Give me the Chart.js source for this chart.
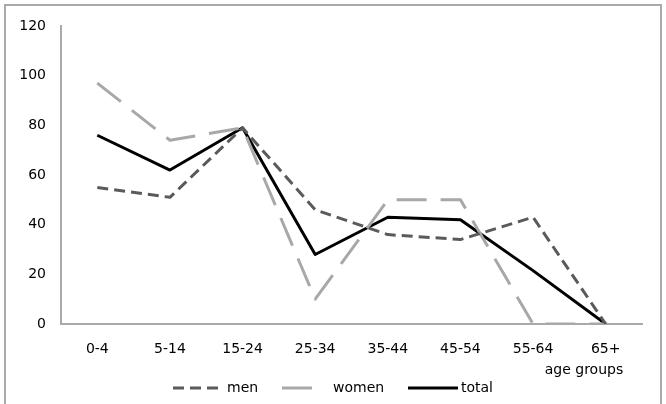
<!DOCTYPE html>
<html>
<head>
<meta charset="utf-8">
<title>Age groups</title>
<script src="https://cdn.jsdelivr.net/npm/chart.js@4/dist/chart.umd.min.js"></script>
<style>
    html, body { margin: 0; padding: 0; background: #fff; overflow: hidden; }
    #wrap { position: relative; width: 666px; height: 404px; }
    #frame {
        position: absolute; left: 4px; top: 4px; width: 654px; height: 420px;
        border: 2px solid #a9a9a9; pointer-events: none;
    }
    canvas { position: absolute; left: 0; top: 0; }
</style>
</head>
<body>
<div id="wrap">
    <canvas id="ageChart" width="666" height="404"></canvas>
    <div id="frame"></div>
</div>
<script>
// Data
const ageGroups = ['0-4', '5-14', '15-24', '25-34', '35-44', '45-54', '55-64', '65+'];
const menValues = [55, 51, 79, 46, 36, 34, 43, 0];
const womenValues = [97, 74, 79, 10, 50, 50, 0, 0];
const totalValues = [76, 62, 79, 28, 43, 42, 21.5, 0];
const yTicks = [0, 20, 40, 60, 80, 100, 120];

const FONT = '"DejaVu Sans", Verdana, sans-serif';
const TEXT_COLOR = '#000000';

// Legend drawn at the bottom like the Excel original
const bottomLegend = {
    id: 'bottomLegend',
    afterDraw(chart) {
        const ctx = chart.ctx;
        const spots = [
            { x1: 173, x2: 218, tx: 227 },
            { x1: 282, x2: 313, tx: 333 },
            { x1: 408, x2: 458, tx: 461 }
        ];
        const y = 388;
        ctx.save();
        chart.data.datasets.forEach((ds, i) => {
            const s = spots[i];
            ctx.beginPath();
            ctx.strokeStyle = ds.borderColor;
            ctx.lineWidth = ds.borderWidth;
            ctx.setLineDash(ds.borderDash || []);
            ctx.moveTo(s.x1, y);
            ctx.lineTo(s.x2, y);
            ctx.stroke();
            ctx.setLineDash([]);
            ctx.fillStyle = TEXT_COLOR;
            ctx.font = '14px ' + FONT;
            ctx.textBaseline = 'middle';
            ctx.textAlign = 'left';
            ctx.fillText(ds.label, s.tx, y);
        });
        // axis caption under the last category
        ctx.textAlign = 'center';
        ctx.fillText('age groups', 584, 370);
        ctx.restore();
    }
};

function makeDataset(label, values, color, dash) {
    return {
        label: label,
        data: values,
        borderColor: color,
        backgroundColor: color,
        borderWidth: 3,
        borderDash: dash,
        borderJoinStyle: 'round',
        pointRadius: 0,
        pointHoverRadius: 0,
        tension: 0,
        fill: false
    };
}

const chart = new Chart(document.getElementById('ageChart').getContext('2d'), {
    type: 'line',
    data: {
        labels: ageGroups,
        datasets: [
            makeDataset('men', menValues, '#5a5a5a', [11, 6]),
            makeDataset('women', womenValues, '#a8a8a8', [30, 14]),
            makeDataset('total', totalValues, '#000000', [])
        ]
    },
    options: {
        responsive: false,
        animation: false,
        layout: { padding: { left: 0, right: 24, top: 26, bottom: 0 } },
        plugins: {
            legend: { display: false },
            tooltip: { enabled: false }
        },
        scales: {
            x: {
                offset: true,
                grid: { display: false, drawTicks: false },
                border: { display: true, color: '#a9a9a9', width: 2 },
                ticks: {
                    color: TEXT_COLOR,
                    font: { family: FONT, size: 14 },
                    padding: 17,
                    maxRotation: 0,
                    autoSkip: false
                },
                afterFit(scale) { scale.height = 80; }
            },
            y: {
                min: 0,
                max: 120,
                afterBuildTicks(scale) {
                    scale.ticks = yTicks.map(v => ({ value: v }));
                },
                grid: { display: false, drawTicks: false },
                border: { display: true, color: '#a9a9a9', width: 2 },
                ticks: {
                    color: TEXT_COLOR,
                    font: { family: FONT, size: 14 },
                    padding: 15
                },
                afterFit(scale) { scale.width = 61; }
            }
        }
    },
    plugins: [bottomLegend]
});
</script>
</body>
</html>
